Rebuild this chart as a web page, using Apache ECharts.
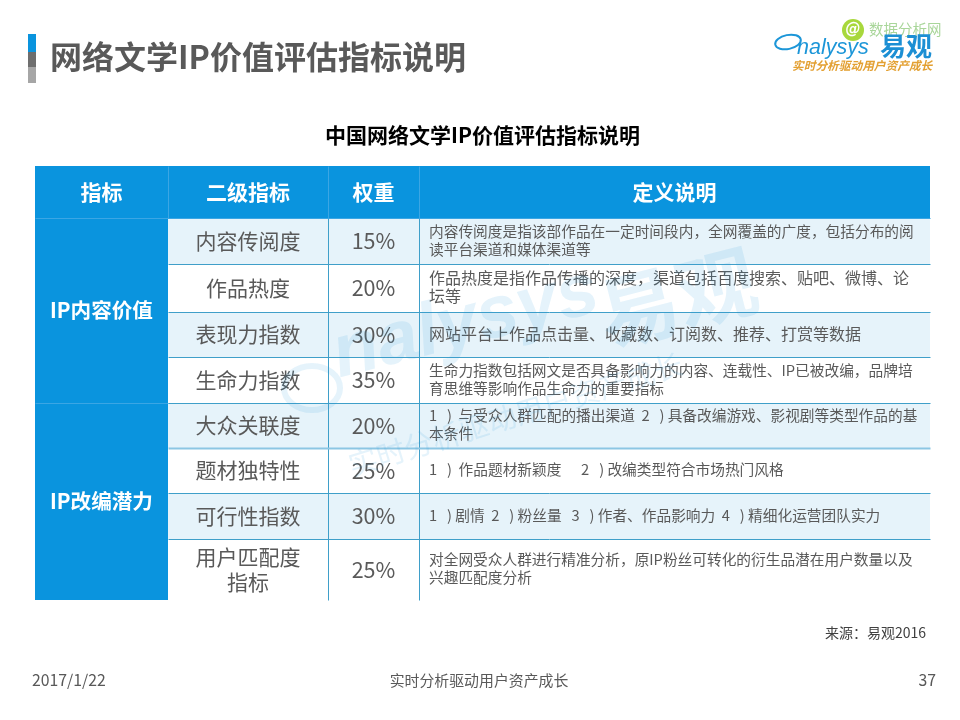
<!DOCTYPE html>
<html>
<head>
    <meta charset="UTF-8">
    <title>网络文学IP价值评估指标说明</title>
    <script type="text/javascript" src="https://cdn.jsdelivr.net/npm/echarts@6/dist/echarts.min.js"></script>
    <style>
        html, body { margin: 0; padding: 0; background: #fff; }
    </style>
</head>
<body>
<div id="main" style="width: 960px; height: 720px;"></div>
<script type="text/javascript">
    var headers = ['指标', '二级指标', '权重', '定义说明'];
    var groups = ['IP内容价值', 'IP改编潜力'];
    var metrics = ['内容传阅度', '作品热度', '表现力指数', '生命力指数', '大众关联度', '题材独特性', '可行性指数', '用户匹配度\n指标'];
    var weights = [15, 20, 30, 35, 20, 25, 30, 25];
    var definitions = [
        '内容传阅度是指该部作品在一定时间段内，全网覆盖的广度，包括分布的阅\n读平台渠道和媒体渠道等',
        '作品热度是指作品传播的深度，渠道包括百度搜索、贴吧、微博、论\n坛等',
        '网站平台上作品点击量、收藏数、订阅数、推荐、打赏等数据',
        '生命力指数包括网文是否具备影响力的内容、连载性、IP已被改编，品牌培\n育思维等影响作品生命力的重要指标',
        '1   )  与受众人群匹配的播出渠道  2   ) 具备改编游戏、影视剧等类型作品的基\n本条件',
        '1   )  作品题材新颖度      2   ) 改编类型符合市场热门风格',
        '1   ) 剧情  2   ) 粉丝量   3   ) 作者、作品影响力  4   ) 精细化运营团队实力',
        '对全网受众人群进行精准分析，原IP粉丝可转化的衍生品潜在用户数量以及\n兴趣匹配度分析'
    ];

    // 表格的列、行边界（不等宽不等高，所以用数值轴）
    var colEdges = [35, 168, 328, 419, 930];
    var rowEdges = [166, 218, 264, 312, 357, 403, 448, 493, 539, 600];
    var groupSpans = [[1, 5], [5, 9]];
    // 第二、三行的说明文字在原图里字号偏大
    var definitionSizes = [14.7, 16, 16, 14.7, 14.7, 14.7, 14.7, 14.7];

    var BLUE = '#0a94de';
    var TINT = '#e6f3fa';
    var LINE = '#3f9fc9';
    var GREY = '#595959';
    var CJK = '"Noto Sans CJK SC", "Noto Sans", sans-serif';

    var cells = [];
    function addCell(x0, x1, y0, y1, text, fill, color, size, weight, align, lh) {
        cells.push({ value: [x0, x1, y0, y1], text: text, fill: fill, color: color, size: size, weight: weight, align: align, lh: lh });
    }
    headers.forEach(function (h, i) {
        addCell(colEdges[i], colEdges[i + 1], rowEdges[0], rowEdges[1], h, BLUE, '#fff', 21, 'bold', 'center', 25);
    });
    groups.forEach(function (g, i) {
        addCell(colEdges[0], colEdges[1], rowEdges[groupSpans[i][0]], rowEdges[groupSpans[i][1]], g, BLUE, '#fff', 20.6, 'bold', 'center', 25);
    });
    metrics.forEach(function (m, i) {
        var fill = i % 2 === 0 ? TINT : '#fff';
        addCell(colEdges[1], colEdges[2], rowEdges[i + 1], rowEdges[i + 2], m, fill, GREY, 21, 'normal', 'center', 25);
        addCell(colEdges[2], colEdges[3], rowEdges[i + 1], rowEdges[i + 2], weights[i] + '%', fill, GREY, 21.5, 'normal', 'center', 25);
        addCell(colEdges[3], colEdges[4], rowEdges[i + 1], rowEdges[i + 2], definitions[i], fill, GREY, definitionSizes[i], 'normal', 'left', 18);
    });

    // 表格内的分隔线
    var rules = [];
    colEdges.slice(1, 4).forEach(function (x, i) {
        rules.push({ value: [x, rowEdges[0], x, rowEdges[1]], color: '#3ba6e4', width: 1 });
        if (i > 0) rules.push({ value: [x, rowEdges[1], x, rowEdges[9]], color: LINE, width: 1 });
    });
    rowEdges.slice(2, 9).forEach(function (y, i) {
        // 448 那条线在原图里更粗更淡
        rules.push({ value: [colEdges[1], y, colEdges[4], y], color: i === 4 ? '#8cc6e3' : LINE, width: i === 4 ? 2 : 1 });
    });
    rules.push({ value: [colEdges[0], rowEdges[1], colEdges[4], rowEdges[1]], color: '#3ba6e4', width: 1 });
    rules.push({ value: [colEdges[0], rowEdges[5], colEdges[1], rowEdges[5]], color: '#3ba6e4', width: 1 });

    var myChart = echarts.init(document.getElementById('main'));

    function watermark(text, x, y, font, rot) {
        return {
            type: 'text', x: x, y: y, rotation: rot, z: 50, silent: true,
            style: { text: text, font: font, fill: '#2a9fe0', opacity: 0.12 }
        };
    }
    function plain(text, x, y, font, fill, align) {
        return {
            type: 'text', x: x, y: y, z: 60, silent: true,
            style: { text: text, font: font, fill: fill, align: align || 'left', verticalAlign: 'middle' }
        };
    }

    var option = {
        animation: false,
        backgroundColor: '#fff',
        grid: { left: colEdges[0], top: rowEdges[0], width: colEdges[4] - colEdges[0], height: rowEdges[9] - rowEdges[0] },
        xAxis: { type: 'value', min: colEdges[0], max: colEdges[4], show: false },
        yAxis: { type: 'value', min: rowEdges[0], max: rowEdges[9], inverse: true, show: false },
        title: [{
            text: '网络文学IP价值评估指标说明', left: 45, top: 36,
            textStyle: { fontFamily: CJK, fontSize: 32, fontWeight: 'bold', color: GREY }
        }, {
            text: '中国网络文学IP价值评估指标说明', left: 320, top: 120,
            textStyle: { fontFamily: CJK, fontSize: 21, fontWeight: 'bold', color: '#000' }
        }],
        series: [{
            type: 'custom',
            coordinateSystem: 'cartesian2d',
            clip: false,
            data: cells,
            encode: { x: [0, 1], y: [2, 3] },
            renderItem: function (params, api) {
                var c = cells[params.dataIndex];
                var p0 = api.coord([c.value[0], c.value[2]]);
                var p1 = api.coord([c.value[1], c.value[3]]);
                var left = c.align === 'left';
                return {
                    type: 'group',
                    children: [{
                        type: 'rect',
                        shape: { x: p0[0], y: p0[1], width: p1[0] - p0[0], height: p1[1] - p0[1] },
                        style: { fill: c.fill }
                    }, {
                        type: 'text',
                        z2: 5,
                        x: left ? p0[0] + 10 : (p0[0] + p1[0]) / 2,
                        y: (p0[1] + p1[1]) / 2 - (left ? 1 : 0),
                        style: {
                            text: c.text,
                            fill: c.color,
                            align: left ? 'left' : 'center',
                            verticalAlign: 'middle',
                            lineHeight: c.lh,
                            fontFamily: CJK,
                            fontSize: c.size,
                            fontWeight: c.weight
                        }
                    }]
                };
            }
        }, {
            type: 'custom',
            coordinateSystem: 'cartesian2d',
            clip: false,
            z: 3,
            data: rules,
            encode: { x: [0, 2], y: [1, 3] },
            renderItem: function (params, api) {
                var r = rules[params.dataIndex];
                var a = api.coord([r.value[0], r.value[1]]);
                var b = api.coord([r.value[2], r.value[3]]);
                return {
                    type: 'line',
                    shape: { x1: a[0] + 0.5, y1: a[1] + 0.5, x2: b[0] + 0.5, y2: b[1] + 0.5 },
                    style: { stroke: r.color, lineWidth: r.width }
                };
            }
        }],
        graphic: [
            // 标题左侧色条
            { type: 'rect', shape: { x: 28, y: 34, width: 8, height: 18 }, style: { fill: BLUE } },
            { type: 'rect', shape: { x: 28, y: 52, width: 8, height: 15 }, style: { fill: '#6e6e6e' } },
            { type: 'rect', shape: { x: 28, y: 67, width: 8, height: 16 }, style: { fill: '#a6a6a6' } },

            // logo
            { type: 'circle', shape: { cx: 853, cy: 30, r: 11 }, style: { fill: '#a8d83c' } },
            plain('@', 853, 30, 'italic bold 15px "DejaVu Sans"', '#fff', 'center'),
            plain('数据分析网', 869, 29, '14.5px ' + CJK, '#a9d69a'),
            { type: 'ellipse', shape: { cx: 788, cy: 42, rx: 13, ry: 7 }, rotation: 0.2, originX: 788, originY: 42, style: { fill: 'none', stroke: '#1c96d8', lineWidth: 2 } },
            plain('nalysys', 797, 48, 'italic 21.5px "Liberation Sans"', '#1c96d8'),
            plain('易观', 880, 46, 'bold 26px ' + CJK, '#1c8fd4'),
            plain('实时分析驱动用户资产成长', 792, 66, 'italic bold 11.7px ' + CJK, '#e3a032'),

            // 水印
            { type: 'ellipse', z: 50, silent: true, shape: { cx: 312, cy: 388, rx: 28, ry: 22 }, style: { fill: 'none', stroke: '#2a9fe0', lineWidth: 6, opacity: 0.12 } },
            watermark('nalysys', 325, 322, 'italic bold 74px "Liberation Sans"', 0.25),
            watermark('易观', 590, 278, 'bold 80px ' + CJK, 0.25),
            watermark('实时分析驱动用户资产成长', 345, 452, '29px ' + CJK, 0.3),

            // 页脚
            plain('来源：易观2016', 926, 633, '14px ' + CJK, '#404040', 'right'),
            plain('2017/1/22', 32, 680, '15.8px ' + CJK, GREY),
            plain('实时分析驱动用户资产成长', 479, 680, '14.9px ' + CJK, GREY, 'center'),
            plain('37', 936, 680, '15.8px ' + CJK, GREY, 'right')
        ]
    };

    myChart.setOption(option);
</script>
</body>
</html>
